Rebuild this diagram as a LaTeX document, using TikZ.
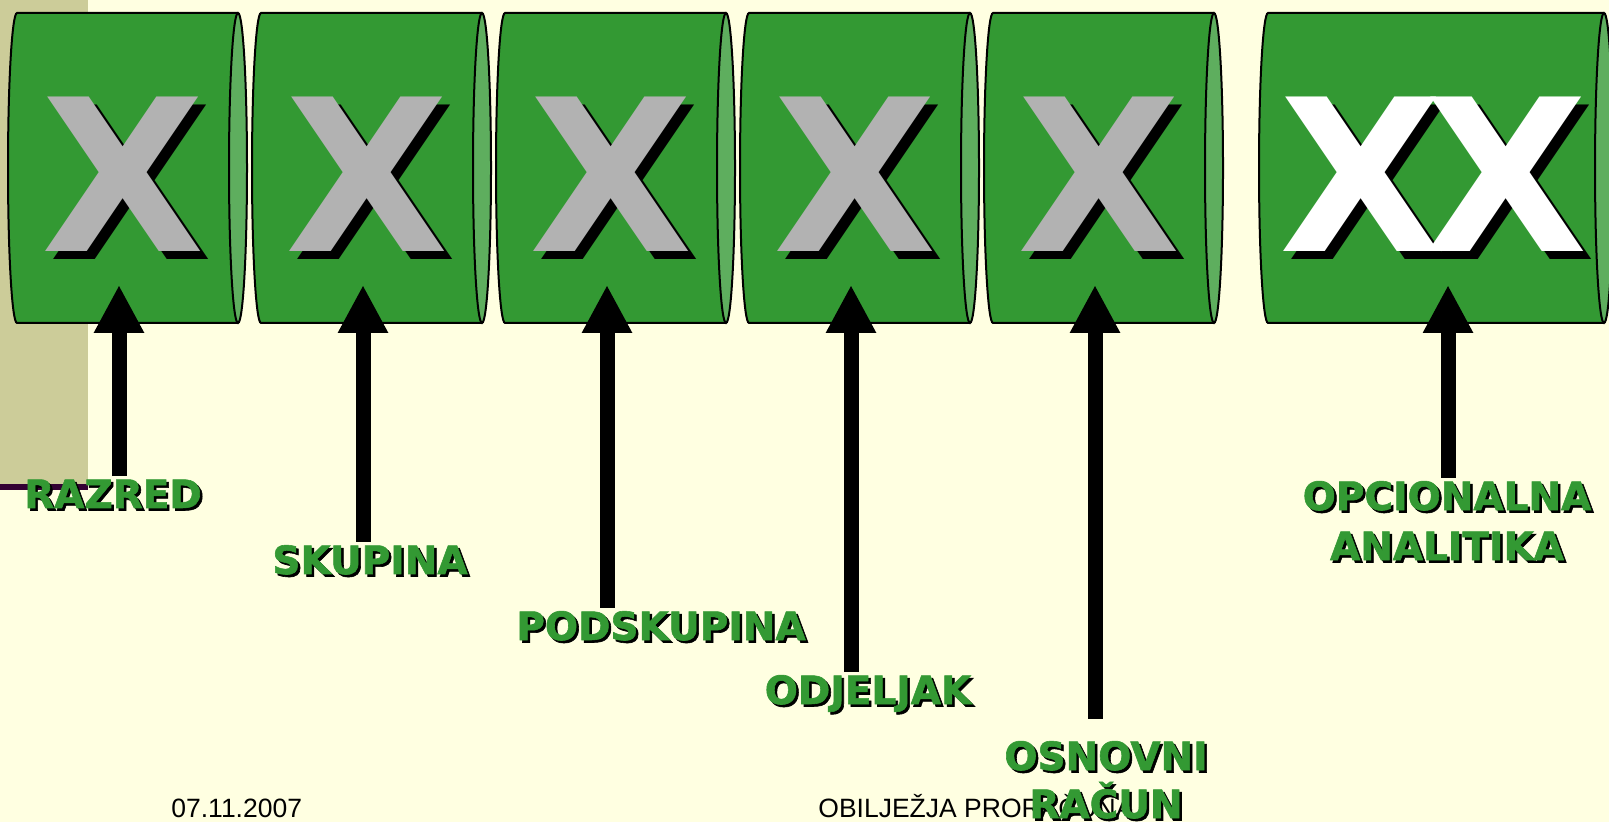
\documentclass[tikz,border=0pt]{standalone}
\usepackage{fontspec}
\setmainfont{Liberation Sans}
\newfontfamily\labfont{DejaVu Sans}[BoldFeatures={FakeBold=1.5}]
\newfontfamily\xfont{DejaVu Sans}
\usetikzlibrary{arrows.meta}

\definecolor{cbg}{RGB}{255,255,225}
\definecolor{ckhaki}{RGB}{204,204,153}
\definecolor{cpurple}{RGB}{51,0,51}
\definecolor{cgreen}{RGB}{51,153,51}
\definecolor{clight}{RGB}{94,174,94}
\definecolor{cgrey}{RGB}{178,178,178}

\tikzset{
  drumline/.style={draw=black, line width=1pt},
  bigx/.style={font=\xfont\bfseries\fontsize{106}{110}\selectfont, inner sep=0pt},
  lab/.style={font=\labfont\bfseries\fontsize{19.5}{23}\selectfont, text=cgreen,
    inner sep=0pt, anchor=base},
  labshadow/.style={lab, text=black},
  pointer/.style={line width=7.5pt, -{Triangle[width=23.5pt,length=24pt]}, shorten <=1.5pt},
  foot/.style={font=\fontsize{13.25}{15}\selectfont, inner sep=0pt, anchor=base west}
}

\begin{document}
\begin{tikzpicture}[x=0.5pt,y=-0.5pt]
\useasboundingbox (0,0) rectangle (1609,822);
\fill[cbg] (0,0) rectangle (1609,822);
\fill[ckhaki] (0,0) rectangle (88,484);
\fill[cpurple] (0,484) rectangle (88,490);

% drums
\foreach \xl/\xr in {17/238,261/482,505/726,749/970,993/1214,1268/1604} {
  \fill[cgreen] (\xr,13) -- (\xl,13) arc[start angle=270, end angle=90, x radius=9, y radius=155]
    -- (\xr,323) -- cycle;
  \draw[drumline] (\xr,13) -- (\xl,13) arc[start angle=270, end angle=90, x radius=9, y radius=155]
    -- (\xr,323);
  \draw[drumline, fill=clight] (\xr,168) ellipse[x radius=9, y radius=155];
}

% letters
\foreach \xx [count=\i] in {123,367,611,855,1099} {
  \node[bigx, text=black] (xs\i) at (\xx+8,182.5) {X};
  \node[bigx, text=cgrey] (x\i) at (\xx,174.5) {X};
}
\node[bigx, text=black] (xs6) at (1369,182.5) {X};
\node[bigx, text=black] (xs7) at (1514,182.5) {X};
\node[bigx, text=white] (x6) at (1361,174.5) {X};
\node[bigx, text=white] (x7) at (1506,174.5) {X};

% arrow tips
\foreach \ax [count=\i] in {119,363,607,851,1095}
  \coordinate (t\i) at (\ax,285);
\coordinate (t6) at (1448,285);

% footer
\node[foot] (date) at (171,817) {07.11.2007};
\node[foot] (title) at (818,817) {OBILJEŽJA PRORAČUNA};

% labels
\node[labshadow] (razred-sh) at (115.5,510.5) {RAZRED};
\node[lab] (razred) at (113,508) {RAZRED};
\node[labshadow] (skupina-sh) at (372.5,576.5) {SKUPINA};
\node[lab] (skupina) at (370,574) {SKUPINA};
\node[labshadow] (podskupina-sh) at (663.5,642.5) {PODSKUPINA};
\node[lab] (podskupina) at (661,640) {PODSKUPINA};
\node[labshadow] (odjeljak-sh) at (870.5,706.5) {ODJELJAK};
\node[lab] (odjeljak) at (868,704) {ODJELJAK};
\node[labshadow] (osnovni-sh) at (1108.5,772.5) {OSNOVNI};
\node[lab] (osnovni) at (1106,770) {OSNOVNI};
\node[labshadow] (racun-sh) at (1108.5,820.5) {RAČUN};
\node[lab] (racun) at (1106,818) {RAČUN};
\node[labshadow] (opcionalna-sh) at (1449.5,512.5) {OPCIONALNA};
\node[lab] (opcionalna) at (1447,510) {OPCIONALNA};
\node[labshadow] (analitika-sh) at (1449.5,562.5) {ANALITIKA};
\node[lab] (analitika) at (1447,560) {ANALITIKA};

% arrows
\draw[pointer] (razred.north -| t1) -- (t1);
\draw[pointer] (skupina.north -| t2) -- (t2);
\draw[pointer] (podskupina.north -| t3) -- (t3);
\draw[pointer] (odjeljak.north -| t4) -- (t4);
\draw[pointer, shorten <=11pt] (osnovni.north -| t5) -- (t5);
\draw[pointer] (opcionalna.north -| t6) -- (t6);
\end{tikzpicture}
\end{document}
